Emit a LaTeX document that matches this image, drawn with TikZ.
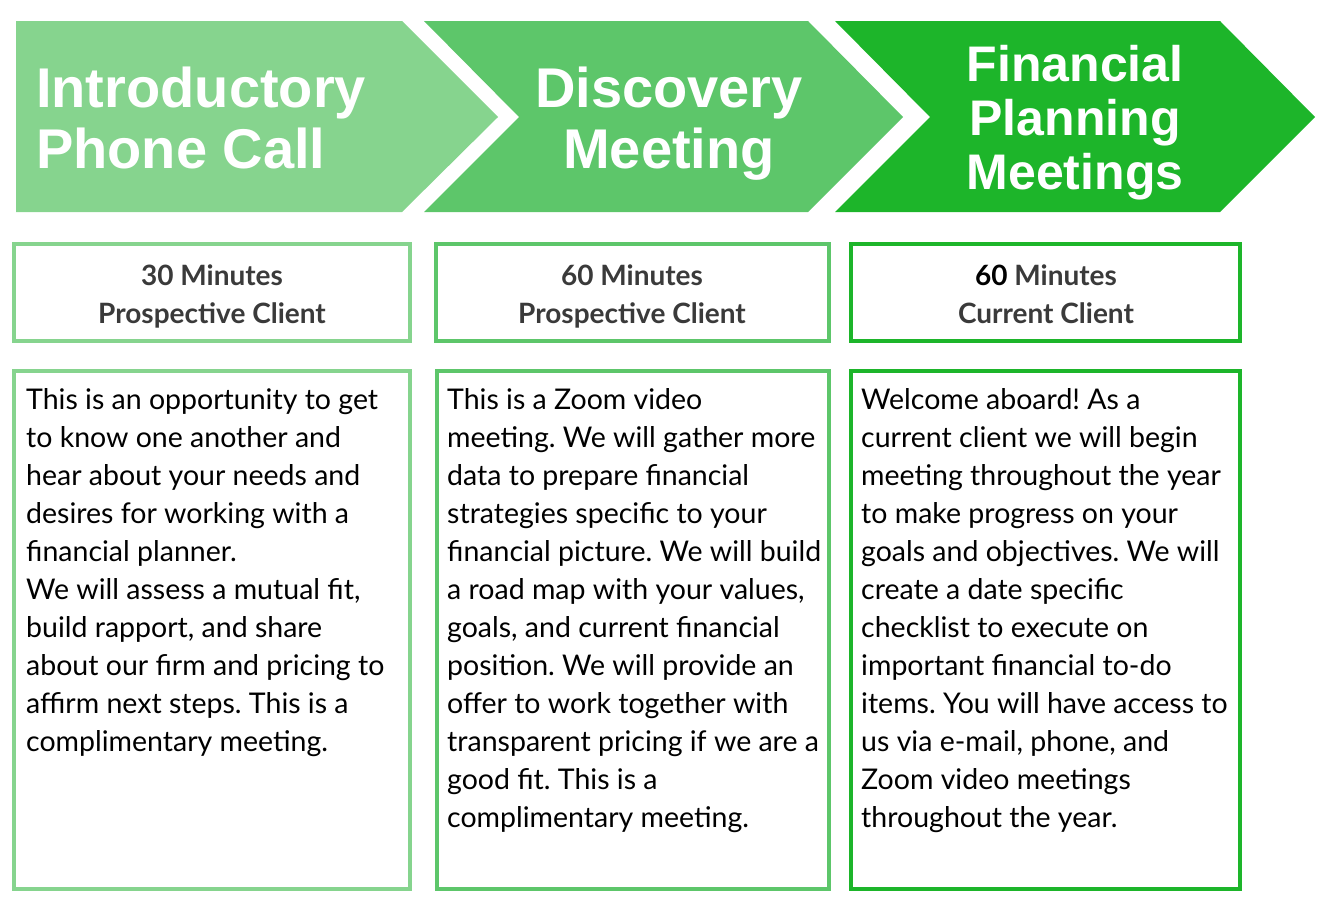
\documentclass[tikz,border=0pt]{standalone}
\usepackage{xcolor}
\usepackage{fontspec}
\usepackage{tikz}
\usetikzlibrary{positioning,calc}
\setmainfont{Lato}
\newfontfamily\headfont{Liberation Sans}
\definecolor{stepone}{RGB}{134,212,142}
\definecolor{steptwo}{RGB}{93,198,106}
\definecolor{stepthree}{RGB}{29,181,42}
\definecolor{subgray}{RGB}{58,58,58}
\frenchspacing

\begin{document}
\begin{tikzpicture}[x=1pt, y=-1pt,
        headtext/.style={text=white, inner sep=0pt, font=\headfont\bfseries\fontsize{56}{61}\selectfont},
        infobox/.style={draw=#1, line width=3.5pt, fill=white},
        subtext/.style={text=subgray, inner sep=0pt, align=center, anchor=base, font=\bfseries\fontsize{28}{38}\selectfont},
        bodytext/.style={text=black, inner sep=0pt, align=left, anchor=base west, font=\fontsize{28.5}{38}\selectfont}]

        \useasboundingbox (0,0) rectangle (1322,914);

        % Chevrons
        \fill[stepone] (16,21) -- (402,21) -- (498,117) -- (402,212) -- (16,212) -- cycle;
        \fill[steptwo] (424,21) -- (808,21) -- (903,117) -- (808,212) -- (424,212) -- (519,117) -- cycle;
        \fill[stepthree] (835,21) -- (1220,21) -- (1315,117) -- (1220,212) -- (835,212) -- (930,117) -- cycle;

        % (anchors sit on the last line's baseline)
        \node[headtext, align=left, anchor=base west] (INTRO) at (36,168) {Introductory\\Phone Call};
        \node[headtext, align=center, anchor=base] (DISC) at (669,168) {Discovery\\Meeting};
        \node[headtext, align=center, anchor=base, font=\headfont\bfseries\fontsize{50}{54}\selectfont] (PLAN) at (1075,189) {Financial\\Planning\\Meetings};

        % Time boxes
        \draw[infobox=stepone] (14,244) rectangle (410,341);
        \draw[infobox=steptwo] (436,244) rectangle (829,341);
        \draw[infobox=stepthree] (851,244) rectangle (1240,341);

        \node[subtext] (TIMEA) at (212,323) {30 Minutes\\Prospective Client};
        \node[subtext] (TIMEB) at (632,323) {60 Minutes\\Prospective Client};
        \node[subtext] (TIMEC) at (1046,323) {{\color{black}60} Minutes\\Current Client};

        % Description boxes
        \draw[infobox=stepone] (14,371) rectangle (410,889);
        \draw[infobox=steptwo] (437,371) rectangle (829,889);
        \draw[infobox=stepthree] (851,371) rectangle (1240,889);

        \node[bodytext] (DESCA) at (26,751) {This is an opportunity to get\\to know one another and\\hear about your needs and\\desires for working with a\\financial planner.\\We will assess a mutual fit,\\build rapport, and share\\about our firm and pricing to\\affirm next steps. This is a\\complimentary meeting.};
        \node[bodytext] (DESCB) at (447,827) {This is a Zoom video\\meeting. We will gather more\\data to prepare financial\\strategies specific to your\\financial picture. We will build\\a road map with your values,\\goals, and current financial\\position. We will provide an\\offer to work together with\\transparent pricing if we are a\\good fit. This is a\\complimentary meeting.};
        \node[bodytext] (DESCC) at (861,827) {Welcome aboard! As a\\current client we will begin\\meeting throughout the year\\to make progress on your\\goals and objectives. We will\\create a date specific\\checklist to execute on\\important financial to-do\\items. You will have access to\\us via e-mail, phone, and\\Zoom video meetings\\throughout the year.};

    \end{tikzpicture}
\end{document}
